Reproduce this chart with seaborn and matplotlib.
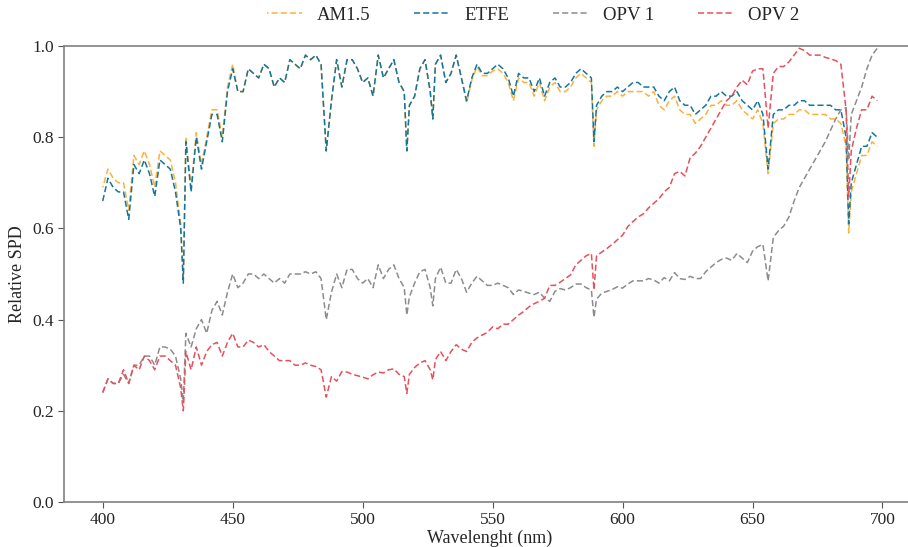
# Espectros relativos (SPD) de AM1.5, ETFE y dos OPV
import numpy as np
import pandas as pd
import matplotlib
matplotlib.use("Agg")
import matplotlib.pyplot as plt
import seaborn as sns

# longitudes de onda: cada 2 nm, mas las lineas de absorcion
wavelength = sorted(list(range(400, 700, 2)) + [431, 517, 527, 589, 687])

am15 = [
    0.69, 0.73, 0.71, 0.70, 0.70, 0.64, 0.76, 0.74, 0.77, 0.74, 0.69, 0.77, 0.76, 0.75, 0.70, 0.61,
    0.49,
    0.80, 0.69, 0.81, 0.74, 0.80, 0.86, 0.86, 0.80, 0.91, 0.96, 0.90, 0.90, 0.95, 0.94, 0.93, 0.96,
    0.95, 0.91, 0.93, 0.92, 0.97, 0.96,
    0.95, 0.98, 0.97, 0.98, 0.96, 0.77, 0.88, 0.97, 0.91, 0.97, 0.97, 0.95, 0.92, 0.93, 0.89, 0.98,
    0.93, 0.95, 0.97, 0.92, 0.90,
    0.77,
    0.87, 0.89, 0.95, 0.97, 0.90,
    0.84,
    0.96, 0.98, 0.92, 0.94, 0.98, 0.93, 0.875, 0.925, 0.955, 0.935,
    0.935, 0.945, 0.95, 0.94, 0.92, 0.88, 0.93, 0.92, 0.92, 0.89,
    0.92, 0.88, 0.91, 0.92, 0.90, 0.90, 0.91, 0.93, 0.94, 0.93,
    0.92,
    0.78,
    0.86, 0.88, 0.89, 0.89, 0.90, 0.89, 0.90, 0.90, 0.90, 0.90,
    0.89, 0.90, 0.87, 0.86, 0.88, 0.89, 0.86, 0.85, 0.85, 0.83,
    0.84, 0.85, 0.87, 0.87, 0.88, 0.87, 0.87, 0.88, 0.86, 0.85,
    0.84, 0.86, 0.83, 0.72, 0.83, 0.84, 0.84, 0.85, 0.85, 0.86,
    0.86, 0.85, 0.85, 0.85, 0.85, 0.84, 0.84, 0.83, 0.78,
    0.59,
    0.68, 0.72, 0.76, 0.76, 0.79, 0.78,
]

etfe = [
    0.66, 0.71, 0.69, 0.68, 0.68, 0.62, 0.74, 0.72, 0.75, 0.72, 0.67, 0.75, 0.74, 0.73, 0.68, 0.60,
    0.48,
    0.79, 0.68, 0.80, 0.73, 0.79, 0.85, 0.85, 0.79, 0.90, 0.95, 0.90, 0.90, 0.95, 0.94, 0.93, 0.96,
    0.95, 0.91, 0.93, 0.92, 0.97, 0.96,
    0.95, 0.98, 0.97, 0.98, 0.96, 0.77, 0.88, 0.97, 0.91, 0.97, 0.97, 0.95, 0.92, 0.93, 0.89, 0.98,
    0.93, 0.95, 0.97, 0.92, 0.90,
    0.77,
    0.87, 0.89, 0.95, 0.97, 0.90,
    0.84,
    0.96, 0.98, 0.92, 0.94, 0.98, 0.93, 0.88, 0.93, 0.96, 0.94,
    0.94, 0.95, 0.96, 0.95, 0.93, 0.89, 0.94, 0.93, 0.93, 0.90,
    0.93, 0.89, 0.92, 0.93, 0.91, 0.91, 0.92, 0.94, 0.95, 0.94,
    0.93,
    0.79,
    0.87, 0.89, 0.90, 0.90, 0.91, 0.90, 0.91, 0.92, 0.92, 0.91,
    0.91, 0.91, 0.89, 0.88, 0.90, 0.91, 0.88, 0.87, 0.87, 0.85,
    0.86, 0.87, 0.89, 0.89, 0.90, 0.89, 0.89, 0.90, 0.88, 0.87,
    0.86, 0.88, 0.85, 0.73, 0.85, 0.86, 0.86, 0.87, 0.87, 0.88,
    0.88, 0.87, 0.87, 0.87, 0.87, 0.87, 0.86, 0.86, 0.80,
    0.61,
    0.70, 0.74, 0.78, 0.78, 0.81, 0.80,
]

opv1 = [
    0.24, 0.27, 0.26, 0.26, 0.28, 0.26, 0.30, 0.30, 0.32, 0.32, 0.30, 0.34, 0.34, 0.335, 0.32, 0.27,
    0.22,
    0.37, 0.34, 0.38, 0.40, 0.37, 0.42, 0.44, 0.41, 0.46, 0.50, 0.47, 0.48, 0.50, 0.50, 0.49, 0.50,
    0.49, 0.48, 0.49, 0.48, 0.50, 0.50,
    0.50, 0.505, 0.50, 0.505, 0.49, 0.40, 0.46, 0.50, 0.47, 0.51, 0.51, 0.49, 0.48, 0.49, 0.47, 0.52,
    0.49, 0.51, 0.52, 0.49, 0.47,
    0.41,
    0.45, 0.48, 0.505, 0.51, 0.47,
    0.43,
    0.49, 0.515, 0.48, 0.48, 0.51, 0.49, 0.46, 0.48, 0.495, 0.485,
    0.475, 0.475, 0.48, 0.475, 0.47, 0.455, 0.465, 0.462, 0.458, 0.455,
    0.46, 0.447, 0.44, 0.462, 0.468, 0.465, 0.47, 0.478, 0.478, 0.47,
    0.465,
    0.405,
    0.445, 0.458, 0.462, 0.466, 0.472, 0.469, 0.478, 0.485, 0.485, 0.485,
    0.49, 0.487, 0.48, 0.492, 0.485, 0.503, 0.49, 0.488, 0.495, 0.49,
    0.49, 0.505, 0.515, 0.525, 0.532, 0.535, 0.53, 0.545, 0.535, 0.525,
    0.55, 0.56, 0.565, 0.485, 0.58, 0.595, 0.605, 0.625, 0.66, 0.69,
    0.71, 0.73, 0.75, 0.77, 0.79, 0.815, 0.84, 0.86, 0.865,
    0.75,
    0.85, 0.88, 0.91, 0.95, 0.98, 0.995,
]

opv2 = [
    0.24, 0.27, 0.26, 0.26, 0.29, 0.26, 0.30, 0.29, 0.32, 0.31, 0.29, 0.32, 0.32, 0.31, 0.30, 0.25,
    0.20,
    0.33, 0.29, 0.34, 0.30, 0.33, 0.345, 0.35, 0.32, 0.35, 0.37, 0.34, 0.34, 0.355, 0.35, 0.34, 0.345,
    0.33, 0.32, 0.31, 0.31, 0.31, 0.30,
    0.30, 0.305, 0.30, 0.297, 0.29, 0.23, 0.275, 0.265, 0.286, 0.285, 0.28, 0.277, 0.274, 0.27, 0.279,
    0.285, 0.283, 0.29, 0.292, 0.28, 0.275,
    0.238,
    0.28, 0.295, 0.305, 0.31, 0.29,
    0.268,
    0.312, 0.33, 0.31, 0.33, 0.345, 0.335, 0.33, 0.35, 0.36, 0.366,
    0.372, 0.384, 0.38, 0.39, 0.39, 0.40, 0.41, 0.418, 0.428, 0.435,
    0.44, 0.447, 0.475, 0.475, 0.482, 0.49, 0.498, 0.52, 0.53, 0.54,
    0.545,
    0.465,
    0.54, 0.548, 0.556, 0.565, 0.575, 0.585, 0.604, 0.615, 0.625, 0.632,
    0.645, 0.655, 0.665, 0.68, 0.69, 0.72, 0.725, 0.715, 0.755, 0.765,
    0.78, 0.80, 0.82, 0.84, 0.86, 0.88, 0.89, 0.91, 0.925, 0.915,
    0.945, 0.95, 0.95, 0.82, 0.94, 0.955, 0.955, 0.965, 0.98, 0.995,
    0.99, 0.98, 0.98, 0.98, 0.975, 0.972, 0.968, 0.96, 0.86,
    0.67,
    0.77, 0.82, 0.86, 0.86, 0.89, 0.88,
]

series_names = ["AM1.5", "ETFE", "OPV 1", "OPV 2"]
series_values = [am15, etfe, opv1, opv2]
colors = ["#ffb03b", "#12779c", "#8c8c8c", "#e8505b"]

for vals in series_values:
    assert len(vals) == len(wavelength)

sns.set_style("ticks")
plt.rcParams["font.family"] = ["Liberation Serif", "DejaVu Serif"]

fig = plt.figure(figsize=(9.08, 5.47), dpi=100)
ax = fig.add_axes([64 / 908, 1 - 502 / 547, (916 - 64) / 908, (502 - 46) / 547])

# dash offsets differ so the orange shows through the gaps of the blue line
offsets = [3, 0, 0, 0]
for name, vals, col, off in zip(series_names, series_values, colors, offsets):
    sns.lineplot(x=wavelength, y=vals, ax=ax, color=col, label=name,
                 linewidth=1.1, linestyle=(off, (4, 2)))

ax.set_xlim(385.1, 712.9)
ax.set_ylim(0, 1.0)
ax.set_xticks([400, 450, 500, 550, 600, 650, 700])
ax.set_yticks([0.0, 0.2, 0.4, 0.6, 0.8, 1.0])
ax.set_yticklabels(["0.0", "0.2", "0.4", "0.6", "0.8", "1.0"])
ax.tick_params(labelsize=12.5, color="#555555", length=4)
ax.set_xlabel("Wavelenght (nm)", fontsize=13, labelpad=1)
ax.set_ylabel("Relative SPD", fontsize=13)

for s in ax.spines.values():
    s.set_color("#808080")
    s.set_linewidth(1.2)

ax.legend(loc="center", bbox_to_anchor=(533 / 908, 1 - 15 / 547),
          bbox_transform=fig.transFigure, ncol=4, frameon=False,
          fontsize=13.5, handlelength=1.9, handletextpad=0.8, columnspacing=2.3)

fig.savefig("out.png", dpi=100)
